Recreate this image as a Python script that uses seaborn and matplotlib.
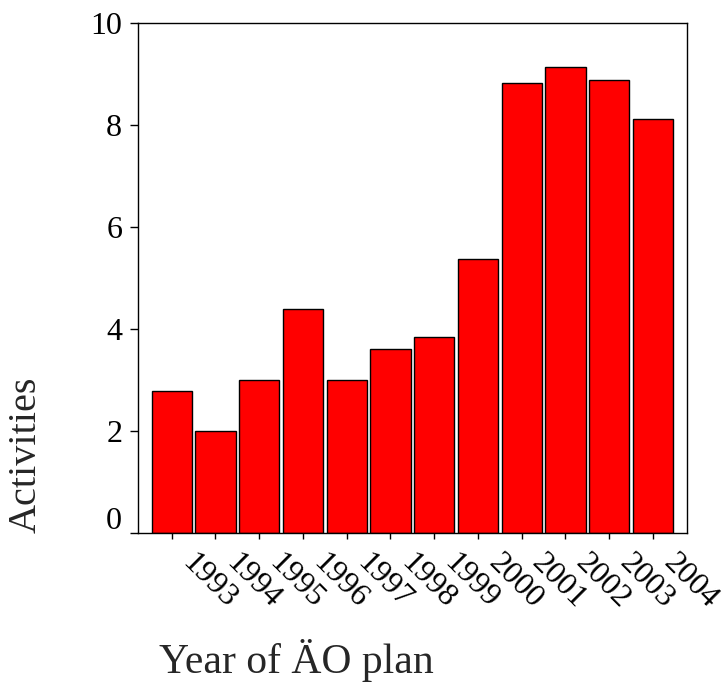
import matplotlib
matplotlib.use("Agg")
import matplotlib.pyplot as plt
import matplotlib.transforms as mtransforms
import pandas as pd
import seaborn as sns


YEARS = ["1993", "1994", "1995", "1996", "1997", "1998",
         "1999", "2000", "2001", "2002", "2003", "2004"]
ACTIVITIES = [2.79, 1.99, 2.99, 4.38, 2.99, 3.61,
              3.84, 5.37, 8.81, 9.13, 8.87, 8.11]
Y_TICKS = [0, 2, 4, 6, 8, 10]

X_LABEL = "Year of ÄO plan"
Y_LABEL = "Activities"


def main() -> None:
    sns.set_style("ticks")
    plt.rcParams["font.family"] = ["Liberation Serif", "DejaVu Serif"]

    W, H = 723, 690
    fig = plt.figure(figsize=(W / 100, H / 100), dpi=100)
    ax = fig.add_axes([137.5 / W, 1 - 533 / H, (687 - 137.5) / W, (533 - 22.7) / H])

    df = pd.DataFrame({"year": YEARS, "activities": ACTIVITIES})
    sns.barplot(
        data=df, x="year", y="activities", color="#ff0000", saturation=1,
        edgecolor="black", linewidth=1.0, width=0.92, ax=ax,
    )

    ax.set_xlim(-0.78, len(YEARS) - 1 + 0.78)
    ax.set_ylim(0, 10)
    ax.set_yticks(Y_TICKS)
    ax.set_yticklabels([str(v) for v in Y_TICKS])
    ax.set_xlabel("")
    ax.set_ylabel("")

    for side in ["left", "right", "top", "bottom"]:
        ax.spines[side].set_visible(True)
        ax.spines[side].set_color("black")
        ax.spines[side].set_linewidth(1.0)

    ax.tick_params(axis="y", direction="out", length=6, width=1, pad=5,
                   labelsize=23, colors="black")
    ax.tick_params(axis="x", direction="out", length=4, width=1, pad=7,
                   labelsize=23, colors="black")

    # year labels start a little to the right of their tick
    shift = mtransforms.ScaledTranslation(18 / 72, 0, fig.dpi_scale_trans)
    for lab in ax.get_xticklabels():
        lab.set_rotation(-45)
        lab.set_ha("left")
        lab.set_va("top")
        lab.set_rotation_mode("anchor")
        lab.set_transform(lab.get_transform() + shift)

    # the "0" label sits a bit above its tick
    zero = ax.get_yticklabels()[0]
    zero.set_transform(zero.get_transform()
                       + mtransforms.ScaledTranslation(0, 11 / 72, fig.dpi_scale_trans))

    fig.text(296 / W, 1 - 673 / H, X_LABEL, ha="center", va="baseline", fontsize=30)
    fig.text(26 / W, 1 - 533 / H, Y_LABEL, rotation=90, ha="center", va="bottom",
             fontsize=29)

    fig.savefig("out.png", dpi=100)
    plt.close(fig)


if __name__ == "__main__":
    main()
